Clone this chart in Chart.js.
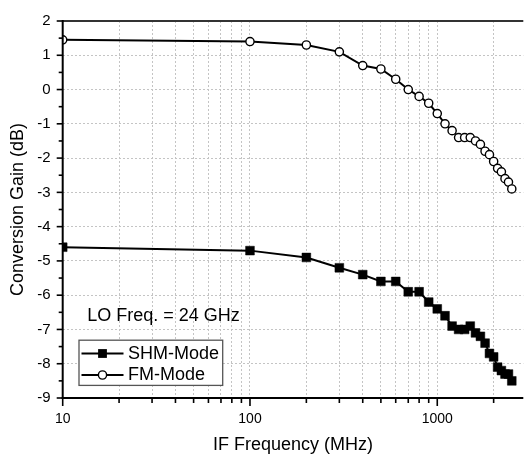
<!DOCTYPE html>
<html>
<head>
<meta charset="utf-8">
<script src="https://cdn.jsdelivr.net/npm/chart.js@4/dist/chart.umd.min.js"></script>
<style>
html,body{margin:0;padding:0;background:#fff;overflow:hidden}
#wrap{width:530px;height:458px;position:relative}
</style>
</head>
<body>
<div id="wrap"><canvas id="c" width="530" height="458"></canvas></div>
<script>
// ---- data ----
const frequencies = [10,100,200,300,400,500,600,700,800,900,1000,1100,1200,1300,1400,1500,1600,1700,1800,1900,2000,2100,2200,2300,2400,2500];
const shmGain = [-4.6,-4.7,-4.9,-5.2,-5.4,-5.6,-5.6,-5.9,-5.9,-6.2,-6.4,-6.6,-6.9,-7.0,-7.0,-6.9,-7.1,-7.2,-7.4,-7.7,-7.8,-8.1,-8.2,-8.3,-8.3,-8.5];
const fmGain = [1.45,1.4,1.3,1.1,0.7,0.6,0.3,0.0,-0.2,-0.4,-0.7,-1.0,-1.2,-1.4,-1.4,-1.4,-1.5,-1.6,-1.8,-1.9,-2.1,-2.3,-2.4,-2.6,-2.7,-2.9];
const seriesNames = ['SHM-Mode','FM-Mode'];
const xTickValues = [10,20,30,40,50,60,70,80,90,100,200,300,400,500,600,700,800,900,1000,2000];
const xLabelValues = [10,100,1000];
const yMin = -9, yMax = 2, yStep = 0.5;
const xMin = 10, xMax = 2880;
const xTitle = 'IF Frequency (MHz)';
const yTitle = 'Conversion Gain (dB)';
const annotationText = 'LO Freq. = 24 GHz';

const FONT = "Arial, 'Liberation Sans', sans-serif";
const isInt = v => Math.abs(v - Math.round(v)) < 1e-6;

function mkData(vals){ return frequencies.map((f,i)=>({x:f,y:vals[i]})); }

function drawMarker(ctx, type, x, y){
  ctx.save();
  ctx.lineWidth = 1.4;
  ctx.strokeStyle = '#000';
  if (type === 'rect'){
    ctx.fillStyle = '#000';
    ctx.fillRect(x-4.4, y-4.4, 8.8, 8.8);
  } else {
    ctx.fillStyle = '#fff';
    ctx.beginPath(); ctx.arc(x, y, 4.1, 0, Math.PI*2); ctx.fill(); ctx.stroke();
  }
  ctx.restore();
}

const framePlugin = {
  id: 'frame',
  afterDatasetsDraw(chart){
    const {ctx, chartArea:a, scales:{x, y}} = chart;
    ctx.save();
    const line = (x1,y1,x2,y2)=>{ctx.beginPath();ctx.moveTo(x1,y1);ctx.lineTo(x2,y2);ctx.stroke();};
    ctx.strokeStyle = '#333'; ctx.lineWidth = 2.2;
    line(a.left, a.top, a.right, a.top);
    ctx.strokeStyle = '#000'; ctx.lineWidth = 2;
    line(a.left, a.top-1, a.left, a.bottom+1);
    line(a.left-1, a.bottom, a.right, a.bottom);
    ctx.lineWidth = 1.6;
    xTickValues.forEach(v=>{
      const px = x.getPixelForValue(v);
      const len = xLabelValues.includes(v) ? 8 : 5;
      line(px, a.bottom, px, a.bottom+len);
    });
    y.ticks.forEach(t=>{
      const py = y.getPixelForValue(t.value);
      const len = isInt(t.value) ? 6 : 4;
      line(a.left, py, a.left-len, py);
    });
    ctx.restore();
  },
  afterDraw(chart){
    const {ctx, chartArea:a} = chart;
    ctx.save();
    ctx.fillStyle = '#000';
    ctx.font = '18px ' + FONT;
    ctx.textBaseline = 'middle';
    ctx.textAlign = 'left';
    ctx.fillText(annotationText, a.left + 24.6, 316);
    const bx = a.left + 16.3, by = 340.2, bw = 143.7, bh = 45.2;
    ctx.fillStyle = '#fff';
    ctx.fillRect(bx, by, bw, bh);
    ctx.strokeStyle = '#555'; ctx.lineWidth = 1.3;
    ctx.strokeRect(bx, by, bw, bh);
    const rows = [{y:353.5, type:'rect', label:seriesNames[0]},{y:375, type:'circle', label:seriesNames[1]}];
    rows.forEach(r=>{
      ctx.strokeStyle = '#000'; ctx.lineWidth = 2;
      ctx.beginPath(); ctx.moveTo(bx+2.5, r.y); ctx.lineTo(bx+44.5, r.y); ctx.stroke();
      drawMarker(ctx, r.type, bx+23.5, r.y);
      ctx.fillStyle = '#000';
      ctx.font = '18px ' + FONT;
      ctx.textBaseline = 'middle';
      ctx.fillText(r.label, bx+49, r.y+0.5);
    });
    ctx.restore();
  }
};

new Chart(document.getElementById('c'), {
  type: 'line',
  data: {
    datasets: [
      { label: seriesNames[0], data: mkData(shmGain), borderColor:'#000', borderWidth:2,
        pointStyle:'rect', pointRadius:6.2, pointBackgroundColor:'#000', pointBorderColor:'#000', pointBorderWidth:0.5,
        tension:0, fill:false },
      { label: seriesNames[1], data: mkData(fmGain), borderColor:'#000', borderWidth:2,
        pointStyle:'circle', pointRadius:4.1, pointBackgroundColor:'#fff', pointBorderColor:'#000', pointBorderWidth:1.4,
        tension:0, fill:false }
    ]
  },
  options: {
    responsive:false, animation:false,
    layout:{padding:{top:17.3,right:0,left:0,bottom:0}},
    plugins:{legend:{display:false}, tooltip:{enabled:false}},
    scales:{
      x:{
        type:'logarithmic', min:xMin, max:xMax,
        afterBuildTicks: s => { s.ticks = xTickValues.map(v=>({value:v})); },
        afterFit: s => { s.height = 60; },
        border:{display:false, dash:[2,2]},
        grid:{drawTicks:false, lineWidth:1, color: c => (c.tick && c.tick.value !== xMin) ? '#c4c4c4' : 'rgba(0,0,0,0)'},
        ticks:{autoSkip:false, maxRotation:0, padding:13, color:'#000', font:{family:FONT, size:14},
          callback: v => xLabelValues.includes(v) ? String(v) : ''},
        title:{display:true, text:xTitle, color:'#000', font:{family:FONT, size:18}, padding:{top:0,bottom:2}}
      },
      y:{
        type:'linear', min:yMin, max:yMax,
        afterFit: s => { s.width = 62.7; },
        border:{display:false, dash:[2,2]},
        grid:{drawTicks:false, lineWidth:1, color: c => (c.tick && isInt(c.tick.value) && c.tick.value > yMin && c.tick.value < yMax) ? '#c4c4c4' : 'rgba(0,0,0,0)'},
        ticks:{stepSize:yStep, autoSkip:false, padding:12, color:'#000', font:{family:FONT, size:15},
          callback: v => isInt(v) ? String(Math.round(v)) : ''},
        title:{display:true, text:yTitle, color:'#000', font:{family:FONT, size:18}, padding:{top:7,bottom:0}}
      }
    }
  },
  plugins:[framePlugin]
});
</script>
</body>
</html>
